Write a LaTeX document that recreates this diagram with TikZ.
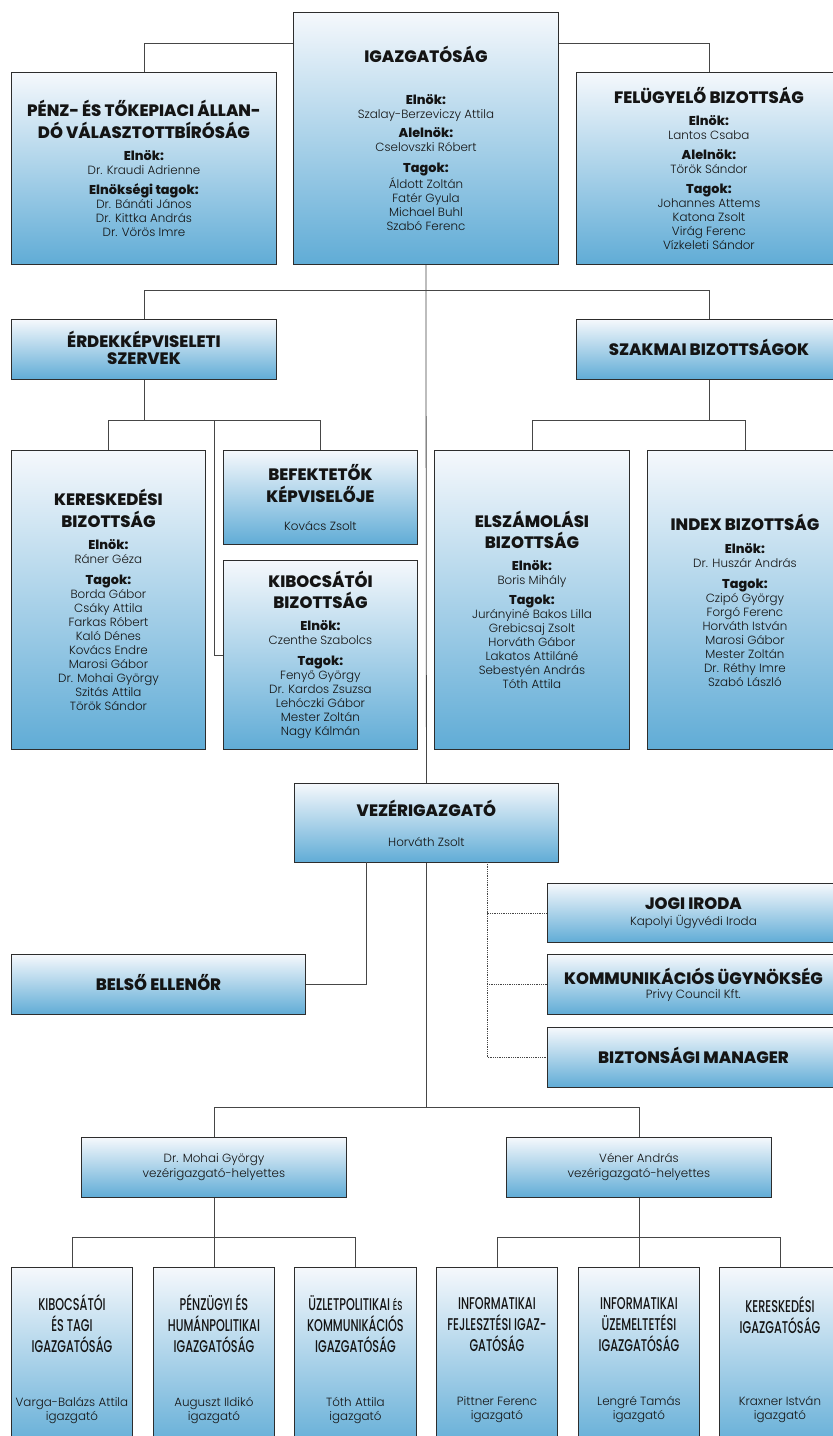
\documentclass[tikz,border=0pt]{standalone}
\usepackage{fontspec}
\setmainfont{Poppins}[UprightFont={* Light},BoldFont={* ExtraBold}]
\newfontfamily\condfont{Poppins}[UprightFont={* Medium},FakeStretch=0.66]
\definecolor{boxtop}{RGB}{245,248,252}
\definecolor{boxbot}{RGB}{96,172,214}
\definecolor{boxline}{RGB}{45,45,45}
\definecolor{linkgray}{RGB}{70,70,70}
\definecolor{ink}{RGB}{20,20,20}
\newcommand\bodyfont{\fontsize{11.9}{14}\selectfont}
\newcommand\orghead[1]{{\fontsize{16.5}{20}\selectfont\bfseries\rule[-4pt]{0pt}{16pt}#1}}
\newcommand\orglabel[1]{{\fontsize{12.8}{14}\selectfont\bfseries #1}}
\newcommand\dirhead[1]{{\condfont\fontsize{17}{21}\selectfont\rule[-4pt]{0pt}{17pt}#1}}
\tikzset{
  box/.style={draw=boxline, line width=0.9pt, top color=boxtop, bottom color=boxbot,
    anchor=north west, align=center, inner sep=2pt, font=\bodyfont, text=ink},
  link/.style={draw=linkgray, line width=0.8pt},
  dotlink/.style={link, densely dotted}
}
\begin{document}
\begin{tikzpicture}[x=1pt,y=-1pt]
  \useasboundingbox (0,0) rectangle (833,1436);
  \fill[white] (0,0) rectangle (833,1436);
  \clip (0,0) rectangle (833,1436);

  % board level
  \node[box, minimum width=265pt, minimum height=192pt] (penz) at (11,72)
    {\orghead{PÉNZ- ÉS TŐKEPIACI ÁLLAN-}\\\orghead{DÓ VÁLASZTOTTBÍRÓSÁG}\\[7pt]
     \orglabel{Elnök:}\\Dr. Kraudi Adrienne\\[6pt]
     \orglabel{Elnökségi tagok:}\\Dr. Bánáti János\\Dr. Kittka András\\Dr. Vörös Imre};
  \node[box, minimum width=265pt, minimum height=252pt] (igaz) at (293,12)
    {\orghead{IGAZGATÓSÁG}\\[27pt]
     \orglabel{Elnök:}\\Szalay-Berzeviczy Attila\\[5pt]
     \orglabel{Alelnök:}\\Cselovszki Róbert\\[7pt]
     \orglabel{Tagok:}\\Áldott Zoltán\\Fatér Gyula\\Michael Buhl\\Szabó Ferenc};
  \node[box, minimum width=265pt, minimum height=192pt] (fel) at (576,72)
    {\orghead{FELÜGYELŐ BIZOTTSÁG}\\[7pt]
     \orglabel{Elnök:}\\Lantos Csaba\\[6pt]
     \orglabel{Alelnök:}\\Török Sándor\\[6pt]
     \orglabel{Tagok:}\\Johannes Attems\\Katona Zsolt\\Virág Ferenc\\Vízkeleti Sándor};

  % committees
  \node[box, minimum width=265pt, minimum height=60pt] (erd) at (11,319)
    {\orghead{ÉRDEKKÉPVISELETI}\\\orghead{SZERVEK}};
  \node[box, minimum width=265pt, minimum height=60pt] (szak) at (576,319)
    {\orghead{SZAKMAI BIZOTTSÁGOK}};
  \node[box, minimum width=194pt, minimum height=299pt] (ker) at (11,450)
    {\orghead{KERESKEDÉSI}\\\orghead{BIZOTTSÁG}\\[7pt]
     \orglabel{Elnök:}\\Ráner Géza\\[7pt]
     \orglabel{Tagok:}\\Borda Gábor\\Csáky Attila\\Farkas Róbert\\Kaló Dénes\\Kovács Endre\\
     Marosi Gábor\\Dr. Mohai György\\Szitás Attila\\Török Sándor};
  \node[box, minimum width=194pt, minimum height=94pt] (bef) at (223,450)
    {\orghead{BEFEKTETŐK}\\\orghead{KÉPVISELŐJE}\\[14pt]Kovács Zsolt};
  \node[box, minimum width=194pt, minimum height=189pt] (kib) at (223,560)
    {\orghead{KIBOCSÁTÓI}\\\orghead{BIZOTTSÁG}\\[7pt]
     \orglabel{Elnök:}\\Czenthe Szabolcs\\[7pt]
     \orglabel{Tagok:}\\Fenyő György\\Dr. Kardos Zsuzsa\\Lehóczki Gábor\\Mester Zoltán\\Nagy Kálmán};
  \node[box, minimum width=195pt, minimum height=299pt] (elsz) at (434,450)
    {\orghead{ELSZÁMOLÁSI}\\\orghead{BIZOTTSÁG}\\[7pt]
     \orglabel{Elnök:}\\Boris Mihály\\[6pt]
     \orglabel{Tagok:}\\Jurányiné Bakos Lilla\\Grebicsaj Zsolt\\Horváth Gábor\\Lakatos Attiláné\\
     Sebestyén András\\Tóth Attila};
  \node[box, minimum width=195pt, minimum height=299pt] (idx) at (647,450)
    {\orghead{INDEX BIZOTTSÁG}\\[8pt]
     \orglabel{Elnök:}\\Dr. Huszár András\\[7pt]
     \orglabel{Tagok:}\\Czipó György\\Forgó Ferenc\\Horváth István\\Marosi Gábor\\Mester Zoltán\\
     Dr. Réthy Imre\\Szabó László};

  % management
  \node[box, minimum width=264pt, minimum height=79pt] (vez) at (294,783)
    {\orghead{VEZÉRIGAZGATÓ}\\[16pt]Horváth Zsolt};
  \node[box, minimum width=294pt, minimum height=60pt] (belso) at (11,954)
    {\orghead{BELSŐ ELLENŐR}};
  \node[box, minimum width=292pt, minimum height=59pt] (jogi) at (547,883)
    {\orghead{JOGI IRODA}\\[1pt]Kapolyi Ügyvédi Iroda};
  \node[box, minimum width=292pt, minimum height=60pt] (komm) at (547,954)
    {\orghead{KOMMUNIKÁCIÓS ÜGYNÖKSÉG}\\[0pt]Privy Council Kft.};
  \node[box, minimum width=292pt, minimum height=60pt] (bizt) at (547,1027)
    {\orghead{BIZTONSÁGI MANAGER}};
  \node[box, minimum width=265pt, minimum height=60pt] (moh) at (81,1137)
    {Dr. Mohai György\\[1pt]vezérigazgató-helyettes};
  \node[box, minimum width=265pt, minimum height=60pt] (ven) at (506,1137)
    {Véner András\\[1pt]vezérigazgató-helyettes};

  % directorates
  \node[box, minimum width=121pt, minimum height=184pt] (kti) at (11,1267)
    {\dirhead{KIBOCSÁTÓI}\\\dirhead{ÉS TAGI}\\\dirhead{IGAZGATÓSÁG}\\[40pt]Varga-Balázs Attila\\igazgató};
  \node[box, minimum width=121pt, minimum height=184pt] (phi) at (153,1267)
    {\dirhead{PÉNZÜGYI ÉS}\\\dirhead{HUMÁNPOLITIKAI}\\\dirhead{IGAZGATÓSÁG}\\[40pt]Auguszt Ildikó\\igazgató};
  \node[box, minimum width=122pt, minimum height=184pt] (uki) at (294,1267)
    {\dirhead{ÜZLETPOLITIKAI {\fontsize{13}{15}\selectfont ÉS}}\\\dirhead{KOMMUNIKÁCIÓS}\\\dirhead{IGAZGATÓSÁG}\\[40pt]Tóth Attila\\igazgató};
  \node[box, minimum width=121pt, minimum height=184pt] (ifi) at (436,1267)
    {\dirhead{INFORMATIKAI}\\\dirhead{FEJLESZTÉSI IGAZ-}\\\dirhead{GATÓSÁG}\\[40pt]Pittner Ferenc\\igazgató};
  \node[box, minimum width=121pt, minimum height=184pt] (iui) at (578,1267)
    {\dirhead{INFORMATIKAI}\\\dirhead{ÜZEMELTETÉSI}\\\dirhead{IGAZGATÓSÁG}\\[40pt]Lengré Tamás\\igazgató};
  \node[box, minimum width=121pt, minimum height=184pt] (kei) at (719,1267)
    {\dirhead{KERESKEDÉSI}\\\dirhead{IGAZGATÓSÁG}\\\dirhead{\phantom{I}}\\[40pt]Kraxner István\\igazgató};

  % connectors
  \coordinate (topbar) at (0,43);
  \coordinate (midbar) at (0,290);
  \coordinate (erdbar) at (0,420);
  \coordinate (kibtap) at (214,420);
  \coordinate (belsotap) at (366,862);
  \coordinate (dottap) at (487,862);
  \coordinate (lowbar) at (0,1107);
  \coordinate (dirbar) at (0,1237);

  \draw[link] (penz.north) |- (igaz.west |- topbar);
  \draw[link] (fel.north) |- (igaz.east |- topbar);
  \draw[link] (igaz.south) -- (vez.north);
  \draw[link] (erd.north) |- (szak.north |- midbar) -- (szak.north);
  \draw[link] (erd.south) -- (erd.south |- erdbar);
  \draw[link] (ker.north) |- (bef.north |- erdbar) -- (bef.north);
  \draw[link] (kibtap) |- (kib.west);
  \draw[link] (szak.south) -- (szak.south |- erdbar);
  \draw[link] (elsz.north) |- (idx.north |- erdbar) -- (idx.north);
  \draw[link] (belsotap) |- (belso.east);
  \draw[dotlink] (dottap) |- (jogi.west);
  \draw[dotlink] (dottap) |- (komm.west);
  \draw[dotlink] (dottap) |- (bizt.west);
  \draw[link] (vez.south) -- (vez.south |- lowbar);
  \draw[link] (moh.north) |- (ven.north |- lowbar) -- (ven.north);
  \draw[link] (moh.south) -- (moh.south |- dirbar);
  \draw[link] (kti.north) |- (uki.north |- dirbar) -- (uki.north);
  \draw[link] (phi.north) -- (phi.north |- dirbar);
  \draw[link] (ven.south) -- (ven.south |- dirbar);
  \draw[link] (ifi.north) |- (kei.north |- dirbar) -- (kei.north);
  \draw[link] (iui.north) -- (iui.north |- dirbar);
\end{tikzpicture}
\end{document}
